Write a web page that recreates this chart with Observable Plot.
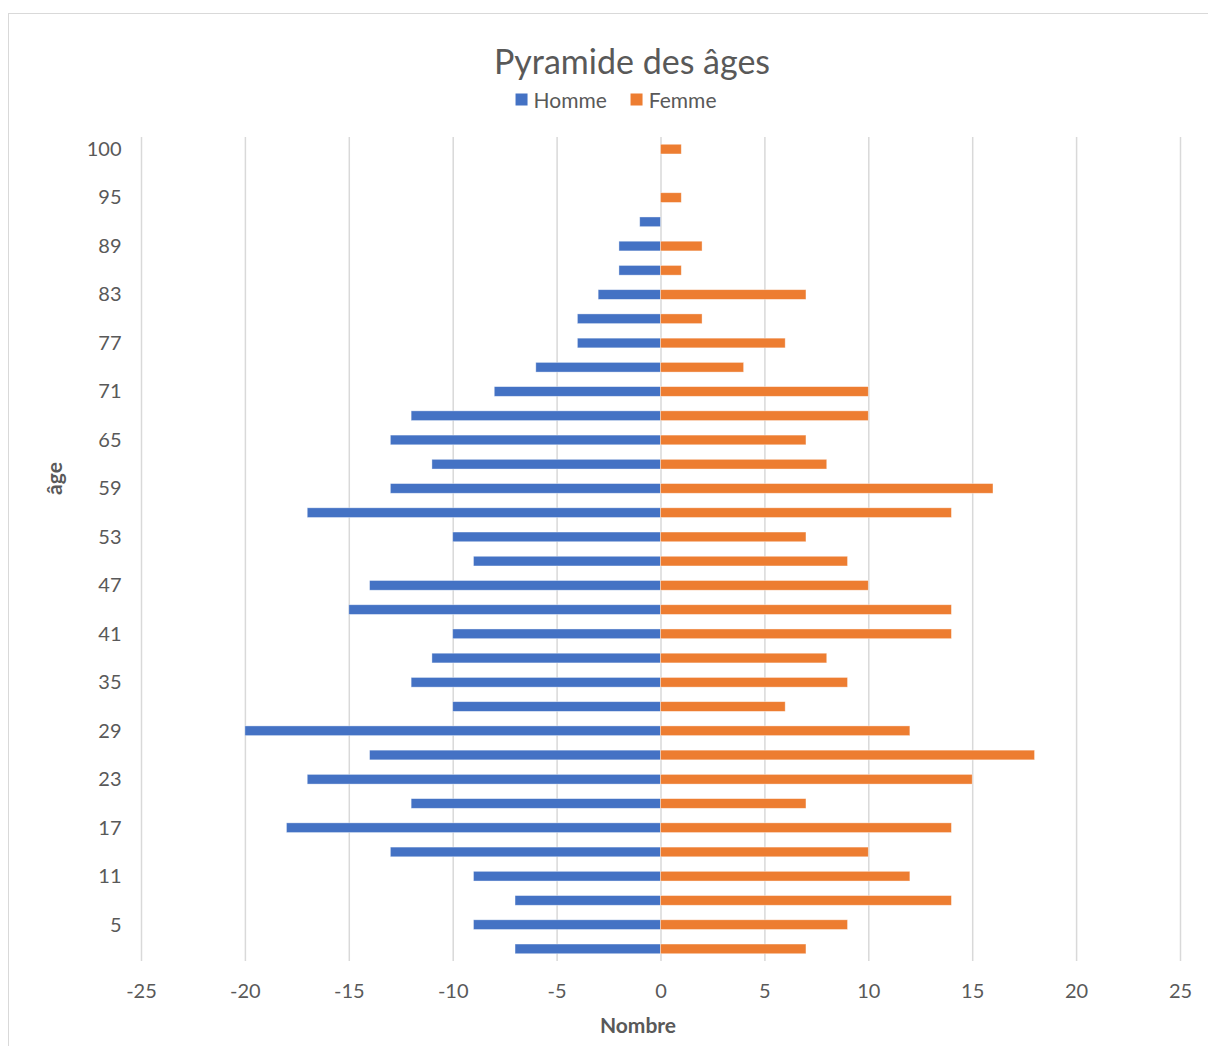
<!DOCTYPE html>
<html>
<head>
<meta charset="utf-8">
<script src="https://cdn.jsdelivr.net/npm/d3@7"></script>
<script src="https://cdn.jsdelivr.net/npm/@observablehq/plot@0.6"></script>
<style>
  html, body { margin: 0; padding: 0; background: #fff; overflow: hidden; }
  body { font-family: Lato, "Open Sans", sans-serif; color: #595959; }
  #frame { position: absolute; left: 8px; top: 13px; width: 1300px; height: 1100px;
           border-top: 1px solid #d9d9d9; border-left: 1px solid #d9d9d9; }
  #header { position: absolute; left: 0; top: 0; width: 1208px; height: 115px; }
  #title { position: absolute; left: 632px; top: 60px; transform: translate(-50%, -50%);
           font-size: 34px; white-space: nowrap; color: #595959; }
  #legend { position: absolute; left: 616px; top: 99px; transform: translate(-50%, -50%);
            font-size: 21px; white-space: nowrap; display: flex; align-items: center; }
  .sw { display: inline-block; width: 12px; height: 12px; margin-right: 6px; }
  .item { display: flex; align-items: center; margin: 0 12px; }
  #chart { position: absolute; left: 0; top: 115px; }
</style>
</head>
<body>
<div id="frame"></div>
<div id="header">
  <div id="title">Pyramide des âges</div>
  <div id="legend"></div>
</div>
<div id="chart"></div>
<script>
// Age groups (bottom to top)
const ages = ["2","5","8","11","14","17","20","23","26","29","32","35","38","41","44","47","50","53","56","59","62","65","68","71","74","77","80","83","86","89","92","95","98","100"];
// Homme (shown as negative values)
const homme = [-7,-9,-7,-9,-13,-18,-12,-17,-14,-20,-10,-12,-11,-10,-15,-14,-9,-10,-17,-13,-11,-13,-12,-8,-6,-4,-4,-3,-2,-2,-1,0,0,0];
// Femme
const femme = [7,9,14,12,10,14,7,15,18,12,6,9,8,14,14,10,9,7,14,16,8,7,10,10,4,6,2,7,1,2,0,1,0,1];
// Tick labels
const xTicks = [-25,-20,-15,-10,-5,0,5,10,15,20,25];
const yTickLabels = ["5","11","17","23","29","35","41","47","53","59","65","71","77","83","89","95","100"];
const seriesNames = ["Homme","Femme"];
const seriesColors = ["#4472C4","#ED7D31"];

const data = [];
ages.forEach((a, i) => {
  data.push({age: a, sexe: "Homme", n: homme[i]});
  data.push({age: a, sexe: "Femme", n: femme[i]});
});

// legend
const leg = document.getElementById("legend");
seriesNames.forEach((s, i) => {
  const it = document.createElement("span");
  it.className = "item";
  it.innerHTML = `<span class="sw" style="background:${seriesColors[i]}"></span>${s}`;
  leg.appendChild(it);
});

const fmt = d => String(d);
const W = 1208, H = 931;
const chart = Plot.plot({
  width: W,
  height: H,
  marginLeft: 141,
  marginRight: 28,
  marginTop: 22,
  marginBottom: 85,
  style: { fontFamily: "Lato, 'Open Sans', sans-serif", fontSize: "20px", color: "#595959", background: "transparent", overflow: "visible" },
  x: { domain: [-25, 25], label: null },
  y: { domain: ages.slice().reverse(), paddingInner: 0.6, paddingOuter: 0.3, round: false, label: null },
  color: { domain: seriesNames, range: seriesColors },
  marks: [
    Plot.ruleX(xTicks, { stroke: "#d9d9d9", strokeWidth: 1.5 }),
    Plot.barX(data, { y: "age", x: "n", fill: "sexe", stroke: "white", strokeOpacity: 0.5, strokeWidth: 0.75 }),
    Plot.axisX({ ticks: xTicks, tickFormat: fmt, tickSize: 0, tickPadding: 22, fill: "#595959", fontSize: 20, label: null }),
    Plot.axisY({ ticks: yTickLabels, tickSize: 0, tickPadding: 20, fill: "#595959", fontSize: 20, label: null }),
    Plot.text(["Nombre"], { frameAnchor: "bottom", dx: -23, dy: 65, fontWeight: "bold", fontSize: 21, fill: "#595959", textAnchor: "middle", lineAnchor: "middle" }),
    Plot.text(["âge"], { frameAnchor: "left", dx: -86, dy: -71, rotate: -90, fontWeight: "bold", fontSize: 21, fill: "#595959", textAnchor: "middle", lineAnchor: "middle" })
  ]
});
document.getElementById("chart").appendChild(chart);
</script>
</body>
</html>
